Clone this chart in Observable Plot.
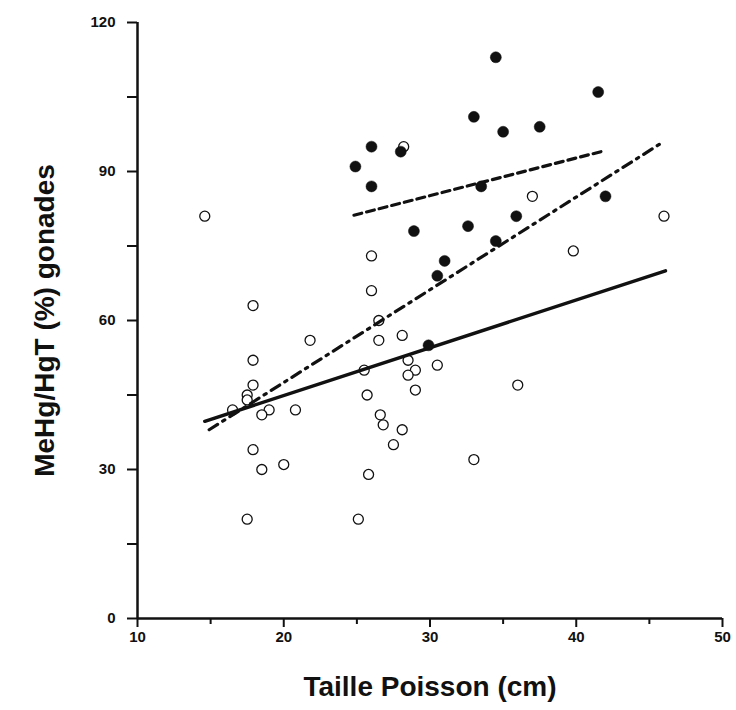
<!DOCTYPE html>
<html>
<head>
<meta charset="utf-8">
<script src="https://cdn.jsdelivr.net/npm/d3@7"></script>
<script src="https://cdn.jsdelivr.net/npm/@observablehq/plot@0.6"></script>
<style>
  html, body { margin: 0; padding: 0; background: #fff; }
</style>
</head>
<body>
<div id="chart"></div>
<script>
// Open circles (one group)
const openX = [14.6, 26, 28.2, 26, 17.9, 26.5, 37, 46, 39.8, 21.8, 26.5, 28.1, 17.9, 28.5, 25.5, 29, 28.5, 30.5, 17.9, 29, 25.7, 36, 17.5, 17.5, 16.5, 19, 20.8, 18.5, 26.6, 26.8, 28.1, 27.5, 17.9, 20, 18.5, 25.8, 33, 17.5, 25.1];
const openY = [81, 73, 95, 66, 63, 60, 85, 81, 74, 56, 56, 57, 52, 52, 50, 50, 49, 51, 47, 46, 45, 47, 45, 44, 42, 42, 42, 41, 41, 39, 38, 35, 34, 31, 30, 29, 32, 20, 20];

// Filled circles (other group)
const filledX = [26, 28, 24.9, 26, 28.9, 34.5, 41.5, 33, 35, 37.5, 33.5, 42, 32.6, 35.9, 34.5, 31, 30.5, 29.9];
const filledY = [95, 94, 91, 87, 78, 113, 106, 101, 98, 99, 87, 85, 79, 81, 76, 72, 69, 55];

// Regression lines (end points)
const solidX = [14.6, 46.1];
const solidY = [39.7, 70.0];
const dashedX = [24.8, 41.7];
const dashedY = [81.2, 94.0];
const dashDotX = [14.9, 45.7];
const dashDotY = [38.0, 95.5];

// Ticks
const xTicks = [10, 20, 30, 40, 50];
const xMinorTicks = [15, 25, 35, 45];
const yTicks = [0, 30, 60, 90, 120];
const yMinorTicks = [15, 45, 75, 105];

const xTitle = "Taille Poisson (cm)";
const yTitle = "MeHg/HgT (%) gonades";

const openPts = openX.map((x, i) => ({x, y: openY[i]}));
const filledPts = filledX.map((x, i) => ({x, y: filledY[i]}));
const toLine = (xs, ys) => xs.map((x, i) => ({x, y: ys[i]}));

const ink = "#111";

const chart = Plot.plot({
  width: 736,
  height: 710,
  marginLeft: 137,
  marginRight: 14,
  marginTop: 22,
  marginBottom: 92,
  style: {fontFamily: "'Liberation Sans', Arial, Helvetica, sans-serif", background: "#fff", color: ink},
  x: {domain: [10, 50], label: null},
  y: {domain: [0, 120], label: null},
  marks: [
    Plot.axisX(xTicks, {tickSize: 9, text: null, strokeWidth: 2, stroke: ink, label: null}),
    Plot.axisX(xMinorTicks, {tickSize: 6, text: null, strokeWidth: 2, stroke: ink, label: null}),
    Plot.axisY(yTicks, {tickSize: 10, text: null, strokeWidth: 2, stroke: ink, label: null}),
    Plot.axisY(yMinorTicks, {tickSize: 10, text: null, strokeWidth: 2, stroke: ink, label: null}),
    Plot.text(xTicks, {x: d => d, y: 0, dy: 19, text: d => String(d), textAnchor: "middle", fontSize: 15, fontWeight: "bold", fill: ink}),
    Plot.text(yTicks, {x: 10, y: d => d, dx: -22, text: d => String(d), textAnchor: "end", fontSize: 15, fontWeight: "bold", fill: ink}),
    Plot.ruleX([10], {y1: 0, y2: 120, stroke: ink, strokeWidth: 2.5}),
    Plot.ruleY([0], {x1: 10, x2: 50, stroke: ink, strokeWidth: 2.5}),
    Plot.dot(openPts, {x: "x", y: "y", r: 5, fill: "white", stroke: ink, strokeWidth: 1.3}),
    Plot.line(toLine(solidX, solidY), {x: "x", y: "y", stroke: ink, strokeWidth: 3.5}),
    Plot.line(toLine(dashedX, dashedY), {x: "x", y: "y", stroke: ink, strokeWidth: 3.2, strokeDasharray: "8,5"}),
    Plot.line(toLine(dashDotX, dashDotY), {x: "x", y: "y", stroke: ink, strokeWidth: 3.2, strokeDasharray: "10,6,2.5,6"}),
    Plot.dot(filledPts, {x: "x", y: "y", r: 5.5, fill: ink, stroke: ink, strokeWidth: 0.5}),
    Plot.text([xTitle], {frameAnchor: "bottom", textAnchor: "middle", text: d => d, dy: 77, fontSize: 28, fontWeight: "bold", fill: ink}),
    Plot.text([yTitle], {frameAnchor: "left", textAnchor: "middle", text: d => d, dx: -92, rotate: -90, fontSize: 28, fontWeight: "bold", fill: ink})
  ]
});
document.getElementById("chart").appendChild(chart);
</script>
</body>
</html>
